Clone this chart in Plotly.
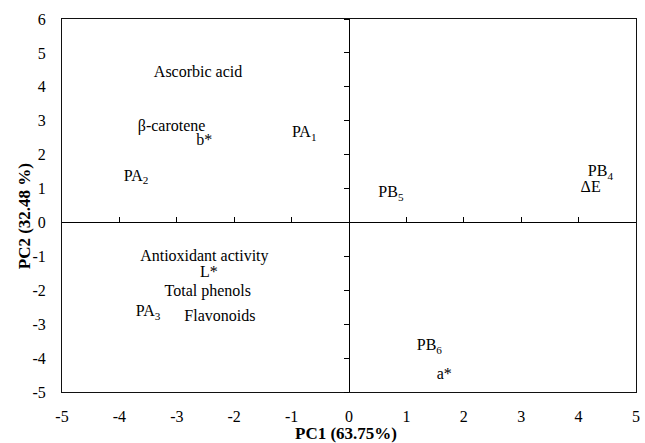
import plotly.graph_objects as go

labels = ["Ascorbic acid", "β-carotene", "b*", "PA<sub>1</sub>", "PA<sub>2</sub>",
          "PB<sub>5</sub>", "PB<sub>4</sub>", "ΔE", "Antioxidant activity", "L*",
          "Total phenols", "PA<sub>3</sub>", "Flavonoids", "PB<sub>6</sub>", "a*"]
pc1 = [-2.63, -3.09, -2.52, -0.78, -3.71, 0.73, 4.38, 4.21, -2.52, -2.44,
       -2.46, -3.50, -2.25, 1.40, 1.66]
pc2 = [4.42, 2.82, 2.40, 2.63, 1.34, 0.86, 1.48, 1.01, -1.02, -1.50,
       -2.06, -2.65, -2.80, -3.65, -4.50]

x_ticks = [-5, -4, -3, -2, -1, 0, 1, 2, 3, 4, 5]
y_ticks = [-5, -4, -3, -2, -1, 0, 1, 2, 3, 4, 5, 6]
x_title = "PC1 (63.75%)"
y_title = "PC2 (32.48 %)"

FONT = "Liberation Serif"

fig = go.Figure()
fig.add_trace(go.Scatter(
    x=pc1, y=pc2, mode="text", text=labels, textposition="middle center",
    textfont=dict(family=FONT, size=16, color="black"),
    hoverinfo="skip", showlegend=False, cliponaxis=False,
))
# dummy trace for the axes drawn along the zero lines
fig.add_trace(go.Scatter(x=[None], y=[None], xaxis="x2", yaxis="y2", showlegend=False))

fig.update_layout(
    width=645, height=443,
    margin=dict(l=62, r=5, t=19, b=51),
    paper_bgcolor="white", plot_bgcolor="white",
    font=dict(family=FONT, size=16, color="black"),
    xaxis=dict(
        range=[-5, 5], tickvals=x_ticks, ticktext=[str(v) for v in x_ticks],
        showgrid=False, zeroline=False, showline=True, mirror=True,
        linecolor="#111", linewidth=1, ticks="", ticklabelstandoff=10,
        tickfont=dict(family=FONT, size=16, color="black"),
    ),
    yaxis=dict(
        range=[-5, 6], tickvals=y_ticks, ticktext=[str(v) for v in y_ticks],
        showgrid=False, zeroline=False, showline=True, mirror=True,
        linecolor="#111", linewidth=1, ticks="", ticklabelstandoff=12,
        tickfont=dict(family=FONT, size=16, color="black"),
    ),
    xaxis2=dict(
        range=[-5, 5], overlaying="x", anchor="free", position=5 / 11,
        side="bottom", tickvals=x_ticks, showticklabels=False,
        ticks="inside", ticklen=5, tickcolor="black", tickwidth=1,
        showline=True, linecolor="black", linewidth=1,
        showgrid=False, zeroline=False,
    ),
    yaxis2=dict(
        range=[-5, 6], overlaying="y", anchor="free", position=0.5,
        side="left", tickvals=y_ticks, showticklabels=False,
        ticks="outside", ticklen=5, tickcolor="black", tickwidth=1,
        showline=True, linecolor="black", linewidth=1,
        showgrid=False, zeroline=False,
    ),
    annotations=[
        dict(text="<b>" + x_title + "</b>", xref="paper", yref="paper",
             x=0.495, y=-0.11, xanchor="center", yanchor="middle",
             showarrow=False, font=dict(family=FONT, size=17, color="black")),
        dict(text="<b>" + y_title + "</b>", xref="paper", yref="paper",
             x=-0.064, y=0.472, xanchor="center", yanchor="middle",
             textangle=-90, showarrow=False,
             font=dict(family=FONT, size=17, color="black")),
    ],
)

fig.write_html("out.html")
